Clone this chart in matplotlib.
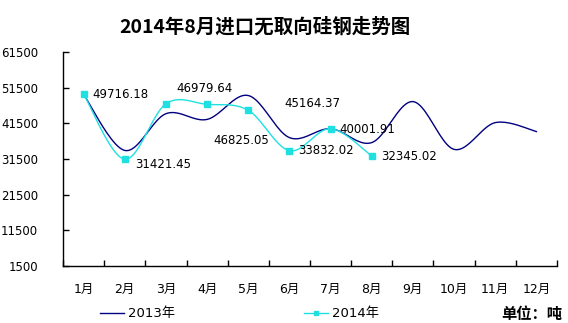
import numpy as np
import matplotlib
matplotlib.use("Agg")
from matplotlib import pyplot as plt
from matplotlib.lines import Line2D

plt.rcParams['font.family'] = ['DejaVu Sans', 'Noto Sans CJK SC']

# Data
months = ["1月", "2月", "3月", "4月", "5月", "6月", "7月", "8月", "9月", "10月", "11月", "12月"]
imports_2013 = [49600, 33900, 44200, 42600, 49300, 37500, 40000, 36100, 47600, 34200, 41700, 39200]
imports_2014 = [49716.18, 31421.45, 46979.64, 46825.05, 45164.37, 33832.02, 40001.91, 32345.02]
# label offsets in pixels (dx, dy) for the 2014 values
label_offsets = [(9, 0), (10, -5), (10, 15), (6, -36), (36, 7), (9, 0), (9, -1), (9, -1)]

color_2013 = "#000080"
color_2014 = "#1FE0E0"


def smooth(xs, ys, n=24):
    # Bezier smoothing through every point (same as a Catmull-Rom curve)
    p = np.column_stack([xs, ys]).astype(float)
    p = np.vstack([p[0], p, p[-1]])
    t = np.linspace(0, 1, n)[:, None]
    out = []
    for i in range(1, len(p) - 2):
        p0, p1, p2, p3 = p[i - 1], p[i], p[i + 1], p[i + 2]
        c1 = p1 + (p2 - p0) / 6
        c2 = p2 - (p3 - p1) / 6
        seg = ((1 - t) ** 3) * p1 + 3 * ((1 - t) ** 2) * t * c1 + 3 * (1 - t) * t ** 2 * c2 + t ** 3 * p2
        out.append(seg if i == 1 else seg[1:])
    out = np.vstack(out)
    return out[:, 0], out[:, 1]


fig = plt.figure(figsize=(5.68, 3.23), dpi=100)
ax = fig.add_axes([63 / 568, 1 - 266 / 323, (557 - 63) / 568, (266 - 52) / 323])

x13 = np.arange(len(imports_2013))
x14 = np.arange(len(imports_2014))

sx, sy = smooth(x13, imports_2013)
ax.plot(sx, sy, color=color_2013, lw=1.0)
sx, sy = smooth(x14, imports_2014)
ax.plot(sx, sy, color=color_2014, lw=1.0)
ax.plot(x14, imports_2014, ls="none", marker="s", ms=4, color=color_2014)

for xi, v, (dx, dy) in zip(x14, imports_2014, label_offsets):
    ax.annotate(f"{v:.2f}", (xi, v), xytext=(dx, dy), textcoords="offset pixels",
                ha="left", va="center", fontsize=8.5, color="black")

ax.set_xlim(-0.5, 11.5)
ax.set_ylim(1500, 61500)
ax.set_yticks(range(1500, 61501, 10000))
ax.set_xticks(np.arange(-0.5, 11.6, 1), minor=False)
ax.set_xticklabels([])
ax.set_xticks(x13, minor=True)
ax.set_xticklabels(months, minor=True)
ax.tick_params(axis="x", which="major", direction="in", length=4, width=1)
ax.tick_params(axis="x", which="minor", length=0, pad=12, labelsize=9)
ax.tick_params(axis="y", direction="in", length=4, width=1, pad=18, labelsize=8.5)
for lbl in ax.get_yticklabels():
    lbl.set_horizontalalignment("right")

for side in ["top", "right"]:
    ax.spines[side].set_visible(False)
for side in ["left", "bottom"]:
    ax.spines[side].set_linewidth(1)
    ax.spines[side].set_color("black")

fig.text(265 / 568, 1 - 27 / 323, "2014年8月进口无取向硅钢走势图", ha="center", va="center",
         fontsize=14, fontweight="bold", family=["Noto Sans CJK SC"])

handles = [Line2D([], [], color=color_2013, lw=1.0),
           Line2D([], [], color=color_2014, lw=1.0, marker="s", ms=3)]
fig.legend(handles, ["2013年", "2014年"], loc="center left", bbox_to_anchor=(100 / 568, 1 - 314 / 323),
           ncol=2, frameon=False, fontsize=9.5, handlelength=1.8, handletextpad=0.3,
           columnspacing=9.8, borderpad=0, borderaxespad=0)

fig.text(562 / 568, 1 - 314 / 323, "单位：吨", ha="right", va="center",
         fontsize=11, fontweight="bold", family=["Noto Sans CJK SC"])

fig.savefig("out.png", dpi=100)
